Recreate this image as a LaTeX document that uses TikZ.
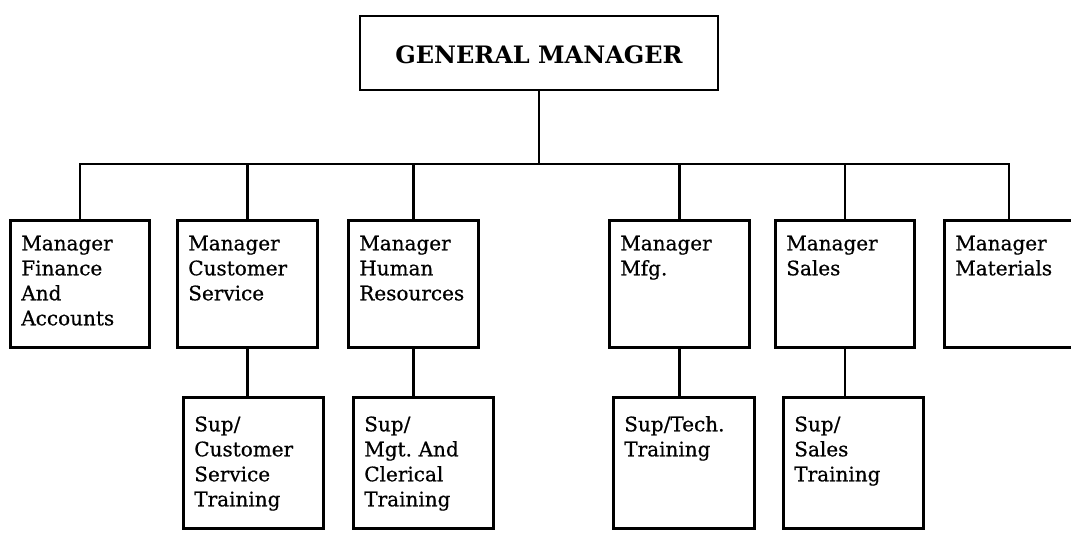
\documentclass[tikz,border=0pt]{standalone}
\usepackage{fontspec}
\setmainfont{DejaVu Serif}
\newfontfamily\chartfont{DejaVu Serif}[FakeBold=0.6]
\begin{document}
\begin{tikzpicture}[x=1pt,y=-1pt,
  line width=2.6pt,
  topbox/.style={draw, line width=2.6pt, font=\bfseries\fontsize{24}{28}\selectfont,
    minimum width=358pt, minimum height=74pt, inner sep=0pt,
    text height=21pt, text depth=1pt},
  unitbox/.style={draw, line width=2.6pt, anchor=north west, align=left,
    font=\chartfont\fontsize{20}{25}\selectfont, inner xsep=11pt, inner ysep=0pt,
    text width=#1, text height=30pt, text depth=97pt},
  subbox/.style={unitbox=#1, text height=34pt, text depth=97pt},
  link/.style={draw, line width=2.6pt, line cap=rect}]
  % canvas
  \fill[white] (0,0) rectangle (1071,533);
  \useasboundingbox (0,0) rectangle (1071,533);

  % top of the chart
  \node[topbox] (gm) at (539,53) {GENERAL MANAGER};

  % department managers
  \node[unitbox=117pt] (fin) at (9,219)   {Manager\\Finance\\And\\Accounts};
  \node[unitbox=118pt] (cs)  at (176,219) {Manager\\Customer\\Service};
  \node[unitbox=108pt] (hr)  at (347,219) {Manager\\Human\\Resources};
  \node[unitbox=118pt] (mfg) at (608,219) {Manager\\Mfg.};
  \node[unitbox=117pt] (sal) at (774,219) {Manager\\Sales};
  \node[unitbox=107pt] (mat) at (943,219) {Manager\\Materials};

  % training supervisors
  \node[subbox=118pt] (scs) at (182,396) {Sup/\\Customer\\Service\\Training};
  \node[subbox=118pt] (shr) at (352,396) {Sup/\\Mgt.\ And\\Clerical\\Training};
  \node[subbox=119pt] (smf) at (612,396) {Sup/Tech.\\Training};
  \node[subbox=118pt] (ssa) at (782,396) {Sup/\\Sales\\Training};

  % reporting bus under the general manager
  \coordinate (bus) at (539,164);
  \draw[link] (gm.south) -- (bus);
  \foreach \d in {fin,cs,hr,mfg,sal,mat}
    \draw[link] (bus) -| (\d.north);

  % manager to supervisor links
  \draw[link] (cs.south)  -- (cs.south  |- scs.north);
  \draw[link] (hr.south)  -- (hr.south  |- shr.north);
  \draw[link] (mfg.south) -- (mfg.south |- smf.north);
  \draw[link] (sal.south) -- (sal.south |- ssa.north);
\end{tikzpicture}
\end{document}
